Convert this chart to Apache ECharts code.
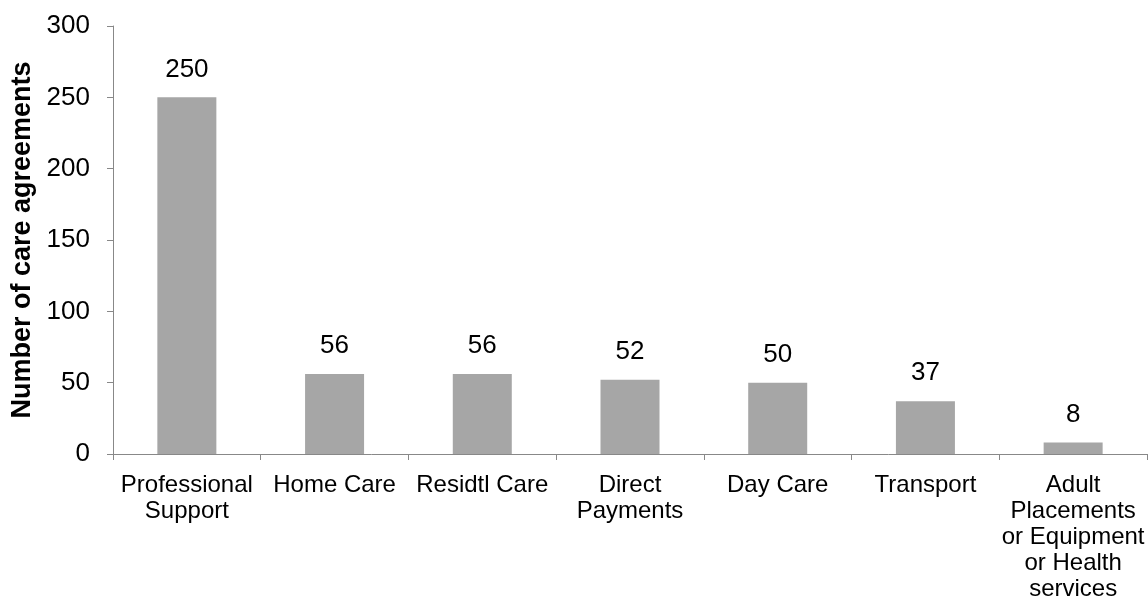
<!DOCTYPE html>
<html>
<head>
<meta charset="utf-8">
<script src="https://cdn.jsdelivr.net/npm/echarts@6/dist/echarts.min.js"></script>
<style>
html,body{margin:0;padding:0;background:#fff;}
#chart{width:1148px;height:601px;}
</style>
</head>
<body>
<div id="chart"></div>
<script>
const categories = [
  "Professional\nSupport",
  "Home Care",
  "Residtl Care",
  "Direct\nPayments",
  "Day Care",
  "Transport",
  "Adult\nPlacements\nor Equipment\nor Health\nservices"
];
const values = [250, 56, 56, 52, 50, 37, 8];
const yAxisTitle = "Number of care agreements";
const yMin = 0, yMax = 300, yInterval = 50;

const chart = echarts.init(document.getElementById('chart'));
const font = "'Liberation Sans', Arial, sans-serif";
chart.setOption({
  animation: false,
  backgroundColor: '#ffffff',
  grid: { left: 113, right: 1, top: 26, bottom: 147, containLabel: false, outerBoundsMode: 'none' },
  xAxis: {
    type: 'category',
    data: categories,
    axisLine: { lineStyle: { color: '#888888', width: 1 } },
    axisTick: { show: true, length: 6, lineStyle: { color: '#888888' } },
    axisLabel: {
      interval: 0, margin: 18, color: '#000', fontSize: 24,
      fontFamily: font, lineHeight: 26
    }
  },
  yAxis: {
    type: 'value',
    min: yMin, max: yMax, interval: yInterval,
    name: yAxisTitle,
    nameLocation: 'middle',
    nameRotate: 90,
    nameGap: 76,
    nameTextStyle: { fontSize: 27, fontWeight: 'bold', color: '#000', fontFamily: font },
    axisLine: { show: true, lineStyle: { color: '#888888', width: 1 } },
    axisTick: { show: true, length: 6, lineStyle: { color: '#888888' } },
    splitLine: { show: false },
    axisLabel: { color: '#000', fontSize: 26, fontFamily: font, margin: 23 }
  },
  series: [{
    type: 'bar',
    data: values,
    barWidth: 59,
    itemStyle: { color: '#A6A6A6' },
    label: {
      show: true, position: 'top', distance: 15,
      color: '#000', fontSize: 26, fontFamily: font
    }
  }]
});
</script>
</body>
</html>
